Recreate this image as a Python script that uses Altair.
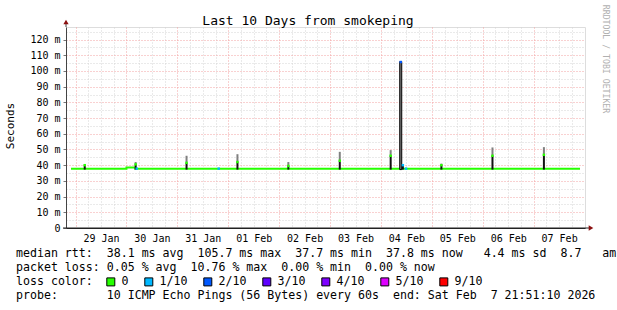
import altair as alt
import pandas as pd

MONO = "DejaVu Sans Mono"

# ---------------- data ----------------
START = "2026-01-28T21:51:10Z"
END = "2026-02-07T21:51:10Z"

# median rtt baseline (ms), step series
base_time = ["2026-01-28T21:51:10Z", "2026-01-30T00:00:00Z", "2026-01-30T04:10:00Z", "2026-02-07T21:51:10Z"]
base_rtt = [37.8, 38.6, 37.8, 37.8]

# daily spikes: time, smoke low, median, smoke high, loss
spike_time = ["2026-01-29T04:20:00Z", "2026-01-30T04:20:00Z", "2026-01-31T04:20:00Z",
              "2026-02-01T04:20:00Z", "2026-02-02T04:20:00Z", "2026-02-03T04:35:00Z",
              "2026-02-04T04:35:00Z", "2026-02-04T09:20:00Z", "2026-02-04T10:20:00Z",
              "2026-02-05T04:30:00Z", "2026-02-06T04:35:00Z", "2026-02-07T04:50:00Z"]
spike_low = [37.2, 37.2, 37.2, 37.2, 37.2, 37.2, 37.2, 37.2, 37.2, 37.2, 37.2, 37.2]
spike_median = [40.0, 40.5, 41.5, 42.0, 39.5, 42.8, 46.0, 105.7, 40.0, 40.0, 46.0, 46.6]
spike_smoke = [40.5, 42.0, 46.0, 47.0, 42.0, 48.5, 49.6, 106.0, 40.5, 41.0, 51.3, 51.5]
spike_loss = ["0", "0", "0", "0", "0", "0", "0", "2/10", "1/10", "0", "0", "0"]

# other loss events on the median line
event_time = ["2026-01-30T04:50:00Z", "2026-01-31T19:30:00Z", "2026-02-04T11:50:00Z"]
event_rtt = [37.8, 37.8, 37.8]
event_loss = ["1/10", "1/10", "1/10"]

loss_labels = ["0", "1/10", "2/10", "3/10", "4/10", "5/10", "9/10"]
loss_colors = ["#26ff00", "#00b8ff", "#0059ff", "#5e00ff", "#7e00ff", "#dd00ff", "#ff0000"]

y_tick_values = list(range(0, 130, 5))

stats_lines = [
    "median rtt:  38.1 ms avg  105.7 ms max  37.7 ms min  37.8 ms now   4.4 ms sd  8.7   am",
    "packet loss: 0.05 % avg  10.76 % max  0.00 % min  0.00 % now",
    "loss color:",
    "probe:       10 ICMP Echo Pings (56 Bytes) every 60s  end: Sat Feb  7 21:51:10 2026",
]
title_text = "Last 10 Days from smokeping"
y_title = "Seconds"
watermark = "RRDTOOL / TOBI OETIKER"


def to_ms(s):
    return int(pd.Timestamp(s).value // 1_000_000)


base_df = pd.DataFrame({"t": [to_ms(s) for s in base_time], "rtt": base_rtt})
spike_df = pd.DataFrame({
    "t": [to_ms(s) for s in spike_time],
    "lo": spike_low, "med": spike_median, "hi": spike_smoke, "loss": spike_loss,
})
marker_df = pd.concat([
    pd.DataFrame({"t": [to_ms(s) for s in spike_time], "rtt": spike_median, "loss": spike_loss}),
    pd.DataFrame({"t": [to_ms(s) for s in event_time], "rtt": event_rtt, "loss": event_loss}),
], ignore_index=True)

x_ticks = [int(t.value // 1_000_000) for t in pd.date_range("2026-01-29T00:00:00Z", "2026-02-07T18:00:00Z", freq="6h")]

x_scale = alt.Scale(type="utc", domain=[to_ms(START), to_ms(END)], nice=False)
y_scale = alt.Scale(domain=[0, 128], nice=False, zero=True)

RED_GRID = "#f3a3a3"
GRAY_GRID = "#d4d4d4"

x_axis = alt.Axis(
    values=x_ticks, title=None, grid=True,
    gridColor={"condition": {"test": "utchours(datum.value) === 0", "value": RED_GRID}, "value": GRAY_GRID},
    gridDash=[1, 2], gridWidth=1, ticks=False,
    domainColor="#222", domainWidth=1,
    labelExpr="utchours(datum.value) === 12 ? utcFormat(datum.value, '%d %b') : ''",
    labelFont=MONO, labelFontSize=10, labelColor="#000", labelPadding=5,
    labelOverlap=False, labelFlush=False, labelBound=False,
)
y_axis = alt.Axis(
    values=y_tick_values, title=None, grid=True,
    gridColor={"condition": {"test": "datum.value % 10 === 0", "value": RED_GRID}, "value": GRAY_GRID},
    gridDash=[1, 2], gridWidth=1,
    ticks=True, tickSize=3, tickColor="#777",
    tickOpacity={"condition": {"test": "datum.value % 10 === 0", "value": 1}, "value": 0},
    domainColor="#444", domainWidth=1,
    labelExpr="datum.value % 10 !== 0 ? '' : (datum.value === 0 ? '0\u00a0\u00a0' : datum.value + '\u00a0m')",
    labelFont=MONO, labelFontSize=10, labelColor="#000", labelPadding=3,
    labelOverlap=False, labelBound=False, labelFlush=False,
)

X = alt.X("t:T", scale=x_scale, axis=x_axis, title=None)

baseline = alt.Chart(base_df).mark_line(interpolate="step-after", color="#26ff00", strokeWidth=2, strokeCap="butt").encode(
    x=X,
    y=alt.Y("rtt:Q", scale=y_scale, axis=y_axis, title=None),
)

smoke = alt.Chart(spike_df).transform_filter("datum.hi < 100").mark_bar(size=2, color="#808080").encode(
    x=X,
    y=alt.Y("med:Q", scale=y_scale, axis=y_axis, title=None),
    y2="hi:Q",
)
black = alt.Chart(spike_df).transform_filter("datum.hi < 100").mark_bar(size=2, color="#111").encode(
    x=X,
    y=alt.Y("lo:Q", scale=y_scale, axis=y_axis, title=None),
    y2="med:Q",
)
big = alt.Chart(spike_df).transform_filter("datum.hi >= 100").mark_bar(size=2, fill="#7a7a7a", stroke="#000", strokeWidth=1).encode(
    x=X,
    y=alt.Y("lo:Q", scale=y_scale, axis=y_axis, title=None),
    y2="hi:Q",
)

markers = alt.Chart(marker_df).mark_square(size=6, opacity=1, filled=True).encode(
    x=X,
    y=alt.Y("rtt:Q", scale=y_scale, axis=y_axis, title=None),
    color=alt.Color("loss:N", scale=alt.Scale(domain=loss_labels, range=loss_colors),
                    legend=alt.Legend(orient="none", legendX=39, legendY=249, direction="horizontal",
                                      columns=7, symbolType="square", symbolSize=64,
                                      symbolStrokeColor="#000", symbolStrokeWidth=1, symbolOpacity=1,
                                      labelFont=MONO, labelFontSize=11.6, labelColor="#000",
                                      labelOffset=5, columnPadding=13, title=None, padding=0)),
)

one = alt.Data(values=[{}])


def text_layer(txt, x, y, **kw):
    return alt.Chart(one).mark_text(text=txt, **kw).encode(x=alt.value(x), y=alt.value(y))


layers = [baseline, smoke, black, big, markers]

# axis extensions and arrows
layers.append(alt.Chart(one).mark_rule(color="#444").encode(x=alt.value(0), y=alt.value(-4), y2=alt.value(0)))
layers.append(alt.Chart(one).mark_rule(color="#222").encode(x=alt.value(-3), x2=alt.value(524), y=alt.value(201)))
layers.append(alt.Chart(one).mark_point(shape="triangle-up", filled=True, size=28, opacity=1, color="#8b1010").encode(x=alt.value(0), y=alt.value(-5)))
layers.append(alt.Chart(one).mark_point(shape="triangle-right", filled=True, size=28, opacity=1, color="#8b1010").encode(x=alt.value(525), y=alt.value(201)))

# texts
layers.append(text_layer(title_text, 242, -2.5, font=MONO, fontSize=13, color="#000", align="center", baseline="alphabetic"))
layers.append(text_layer(y_title, -55.5, 99, font=MONO, fontSize=11, color="#000", align="center", baseline="middle", angle=270))
layers.append(text_layer(watermark.replace(" ", "\u00a0"), 539, 32, font=MONO, fontSize=8.2, color="#b0b0b0", align="center", baseline="middle", angle=90))
line_y = [227, 241, 255, 269]
for txt, yy in zip(stats_lines, line_y):
    layers.append(text_layer(txt.replace(" ", "\u00a0"), -50, yy, font=MONO, fontSize=11.6, color="#000", align="left", baseline="middle"))

chart = alt.layer(*layers).properties(
    width=519, height=201,
    padding={"left": 66, "top": 27, "right": 32, "bottom": 82},
    autosize=alt.AutoSizeParams(type="none"),
).configure_view(stroke=None).configure(background="white")

chart.save("out.html", embed_options={"renderer": "svg", "actions": False})
